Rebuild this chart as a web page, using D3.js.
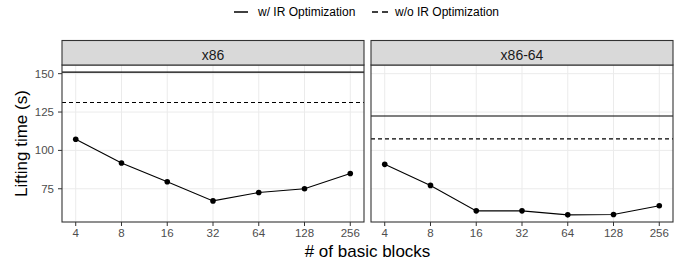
<!DOCTYPE html>
<html lang="en">
<head>
<meta charset="utf-8">
<title>Lifting time by basic blocks</title>
<script src="https://cdn.jsdelivr.net/npm/d3@7"></script>
<style>
  body { margin: 0; background: #fff; }
  text { font-family: "Liberation Sans", Arial, sans-serif; }
</style>
</head>
<body>
<script>
// data
var blocks = [4, 8, 16, 32, 64, 128, 256];
var panels = ["x86", "x86-64"];
var x86Times = [107.3, 91.8, 79.6, 67.1, 72.6, 75.0, 85.0];
var x64Times = [90.9, 77.2, 60.6, 60.6, 58.0, 58.2, 63.9];
var withOpt = [151.0, 122.4];     // solid
var withoutOpt = [131.2, 107.5];  // dashed
var yTicks = [75, 100, 125, 150];
var legendLabels = ["w/ IR Optimization", "w/o IR Optimization"];

var W = 685, H = 260;
var svg = d3.select("body").append("svg").attr("width", W).attr("height", H);

// panel boxes
var plotTop = 65, plotBottom = 222, stripTop = 40.5;
var panelX = [[62, 364], [371, 673]];

// y scale, ggplot style 5% expansion
var all = x86Times.concat(x64Times, withOpt, withoutOpt);
var lo = d3.min(all), hi = d3.max(all), pad = (hi - lo) * 0.05;
var y = d3.scaleLinear().domain([lo - pad, hi + pad]).range([plotBottom, plotTop]);

var series = [x86Times, x64Times];

panels.forEach(function(name, p) {
  var x0 = panelX[p][0], x1 = panelX[p][1];
  var ext = (Math.log2(256) - Math.log2(4)) * 0.05;
  var x = d3.scaleLinear().domain([Math.log2(4) - ext, Math.log2(256) + ext]).range([x0, x1]);
  var px = function(b) { return x(Math.log2(b)); };

  var g = svg.append("g");

  // grid
  g.selectAll(".gy").data(yTicks).enter().append("line")
    .attr("x1", x0).attr("x2", x1)
    .attr("y1", d => y(d)).attr("y2", d => y(d))
    .attr("stroke", "#ebebeb").attr("stroke-width", 1);
  g.selectAll(".gx").data(blocks).enter().append("line")
    .attr("x1", d => px(d)).attr("x2", d => px(d))
    .attr("y1", plotTop).attr("y2", plotBottom)
    .attr("stroke", "#ebebeb").attr("stroke-width", 1);

  // reference lines
  g.append("line").attr("x1", x0).attr("x2", x1)
    .attr("y1", y(withOpt[p])).attr("y2", y(withOpt[p]))
    .attr("stroke", "#000").attr("stroke-width", 1.1);
  g.append("line").attr("x1", x0).attr("x2", x1)
    .attr("y1", y(withoutOpt[p])).attr("y2", y(withoutOpt[p]))
    .attr("stroke", "#000").attr("stroke-width", 1.1)
    .attr("stroke-dasharray", "4,3");

  // line + points
  var line = d3.line().x((d, i) => px(blocks[i])).y(d => y(d));
  g.append("path").datum(series[p]).attr("d", line)
    .attr("fill", "none").attr("stroke", "#000").attr("stroke-width", 1.1);
  g.selectAll("circle").data(series[p]).enter().append("circle")
    .attr("cx", (d, i) => px(blocks[i])).attr("cy", d => y(d))
    .attr("r", 2.8).attr("fill", "#000");

  // panel border
  g.append("rect").attr("x", x0).attr("y", plotTop)
    .attr("width", x1 - x0).attr("height", plotBottom - plotTop)
    .attr("fill", "none").attr("stroke", "#333").attr("stroke-width", 1.1);

  // strip
  g.append("rect").attr("x", x0).attr("y", stripTop)
    .attr("width", x1 - x0).attr("height", plotTop - stripTop)
    .attr("fill", "#d9d9d9").attr("stroke", "#333").attr("stroke-width", 1.1);
  g.append("text").attr("x", (x0 + x1) / 2).attr("y", 59.5)
    .attr("text-anchor", "middle").attr("font-size", 14).attr("fill", "#1a1a1a")
    .text(name);

  // x ticks
  g.selectAll(".tx").data(blocks).enter().append("line")
    .attr("x1", d => px(d)).attr("x2", d => px(d))
    .attr("y1", plotBottom).attr("y2", plotBottom + 4)
    .attr("stroke", "#333").attr("stroke-width", 1);
  g.selectAll(".lx").data(blocks).enter().append("text")
    .attr("x", d => px(d)).attr("y", 237)
    .attr("text-anchor", "middle").attr("font-size", 11.5).attr("fill", "#4d4d4d")
    .text(d => d);

  // y ticks only on first panel
  if (p === 0) {
    g.selectAll(".ty").data(yTicks).enter().append("line")
      .attr("x1", x0 - 4).attr("x2", x0)
      .attr("y1", d => y(d)).attr("y2", d => y(d))
      .attr("stroke", "#333").attr("stroke-width", 1);
    g.selectAll(".ly").data(yTicks).enter().append("text")
      .attr("x", x0 - 8).attr("y", d => y(d) + 4)
      .attr("text-anchor", "end").attr("font-size", 11.5).attr("fill", "#4d4d4d")
      .text(d => d);
  }
});

// axis titles
svg.append("text").attr("x", (62 + 673) / 2).attr("y", 256.5)
  .attr("text-anchor", "middle").attr("font-size", 17).attr("fill", "#000")
  .text("# of basic blocks");
svg.append("text").attr("transform", "translate(27," + ((plotTop + plotBottom) / 2) + ") rotate(-90)")
  .attr("text-anchor", "middle").attr("font-size", 17).attr("fill", "#000")
  .text("Lifting time (s)");

// legend
var legendKeys = [[234, 248, 258, null], [372, 388, 395, "6,4"]];
legendLabels.forEach(function(lab, i) {
  var k = legendKeys[i];
  svg.append("line").attr("x1", k[0]).attr("x2", k[1]).attr("y1", 12).attr("y2", 12)
    .attr("stroke", "#000").attr("stroke-width", 1.5)
    .attr("stroke-dasharray", k[3]);
  svg.append("text").attr("x", k[2]).attr("y", 16)
    .attr("font-size", 12).attr("fill", "#000").text(lab);
});
</script>
</body>
</html>
